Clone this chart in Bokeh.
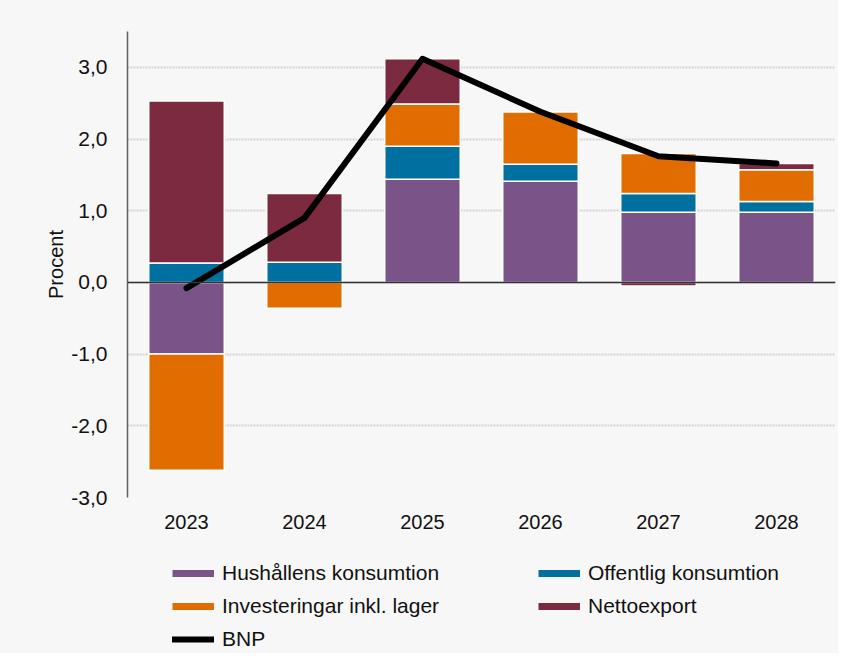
from bokeh.plotting import figure
from bokeh.layouts import column
from bokeh.models import (ColumnDataSource, FactorRange, Range1d, FixedTicker,
                          CustomJSTickFormatter, Legend, LegendItem, Span)
from bokeh.embed import file_html
from bokeh.resources import INLINE

years = ["2023", "2024", "2025", "2026", "2027", "2028"]
hush = [-1.0, 0.0, 1.44, 1.41, 0.98, 0.98]
offk = [0.27, 0.28, 0.46, 0.24, 0.26, 0.15]
inv = [-1.62, -0.36, 0.59, 0.73, 0.56, 0.44]
net = [2.26, 0.96, 0.63, 0.0, -0.05, 0.09]
bnp = [-0.08, 0.90, 3.12, 2.38, 1.76, 1.66]

series_names = ["Hushållens konsumtion", "Offentlig konsumtion",
                "Investeringar inkl. lager", "Nettoexport"]
series_vals = [hush, offk, inv, net]
colors = ["#7a5488", "#0070a0", "#e16c00", "#7b2a40"]
y_ticks = [-3, -2, -1, 0, 1, 2, 3]

FONT = "Liberation Sans"
BG = "#f7f7f7"

p = figure(width=838, height=548, x_range=FactorRange(*years),
           y_range=Range1d(-3.0, 3.5), output_backend="svg",
           toolbar_location=None, min_border_left=127, min_border_right=3,
           min_border_top=31, min_border_bottom=51)
p.background_fill_color = BG
p.border_fill_color = BG
p.outline_line_color = None
p.x_range.range_padding = 0

# stacked bars: positives up, negatives down
pos = [0.0] * len(years)
neg = [0.0] * len(years)
for name, vals, col in zip(series_names, series_vals, colors):
    bottoms, tops = [], []
    for i, v in enumerate(vals):
        if v >= 0:
            bottoms.append(pos[i]); tops.append(pos[i] + v); pos[i] += v
        else:
            bottoms.append(neg[i]); tops.append(neg[i] + v); neg[i] += v
    src = ColumnDataSource(dict(x=years, bottom=bottoms, top=tops))
    p.vbar(x="x", bottom="bottom", top="top", width=0.64, source=src,
           fill_color=col, line_color="white", line_width=1.5)

p.add_layout(Span(location=0, dimension="width", line_color="#333333", line_width=1.5))

p.line(years, bnp, line_color="black", line_width=6,
       line_cap="round", line_join="round")

# axes
p.yaxis.ticker = FixedTicker(ticks=y_ticks)
p.yaxis.formatter = CustomJSTickFormatter(code="return tick.toFixed(1).replace('.', ',');")
p.yaxis.axis_label = "Procent"
p.yaxis.axis_label_text_font = FONT
p.yaxis.axis_label_text_font_size = "20px"
p.yaxis.axis_label_text_font_style = "normal"
p.yaxis.axis_label_text_color = "#111111"
p.yaxis.axis_label_standoff = 1
p.yaxis.major_label_text_font = FONT
p.yaxis.major_label_text_font_size = "21px"
p.yaxis.major_label_text_color = "#111111"
p.yaxis.major_tick_line_color = None
p.yaxis.minor_tick_line_color = None
p.yaxis.major_label_standoff = 14
p.yaxis.axis_line_color = "#606060"
p.yaxis.axis_line_width = 1.5

p.xaxis.axis_line_color = None
p.xaxis.major_tick_line_color = None
p.xaxis.major_label_text_font = FONT
p.xaxis.major_label_text_font_size = "20px"
p.xaxis.major_label_text_color = "#111111"
p.xaxis.major_label_standoff = 11

p.xgrid.grid_line_color = None
p.ygrid.grid_line_color = "#d4d4d4"
p.ygrid.grid_line_width = 2
p.ygrid.grid_line_dash = "2 1"

# legend figure below (frame aligned with the main plot's frame)
lf = figure(width=838, height=105, output_backend="svg", toolbar_location=None,
            min_border_left=127, min_border_right=3, min_border_top=0,
            min_border_bottom=0, x_range=Range1d(0, 1), y_range=Range1d(0, 1))
lf.background_fill_color = BG
lf.border_fill_color = BG
lf.outline_line_color = None
lf.axis.visible = False
lf.grid.visible = False

nan = float("nan")
proxies = [lf.line(x=[nan], y=[nan], line_color=c, line_width=7, line_cap="butt")
           for c in colors]
bnp_proxy = lf.line(x=[nan], y=[nan], line_color="black", line_width=6, line_cap="round")

def mk_legend(items, loc):
    return Legend(items=items, location=loc, orientation="vertical",
                  border_line_color=None, background_fill_alpha=0,
                  padding=0, margin=0, spacing=9, glyph_width=42,
                  glyph_height=24, label_height=24, label_standoff=8,
                  label_text_font=FONT, label_text_font_size="21px",
                  label_text_color="#111111")

leg1 = mk_legend([LegendItem(label=series_names[0], renderers=[proxies[0]]),
                  LegendItem(label=series_names[2], renderers=[proxies[2]]),
                  LegendItem(label="BNP", renderers=[bnp_proxy])], (45, 2))
leg2 = mk_legend([LegendItem(label=series_names[1], renderers=[proxies[1]]),
                  LegendItem(label=series_names[3], renderers=[proxies[3]])], (411, 35))
lf.add_layout(leg1, "center")
lf.add_layout(leg2, "center")

layout = column(p, lf, spacing=0, styles={"background-color": BG})
open("out.html", "w").write(file_html(layout, INLINE))
